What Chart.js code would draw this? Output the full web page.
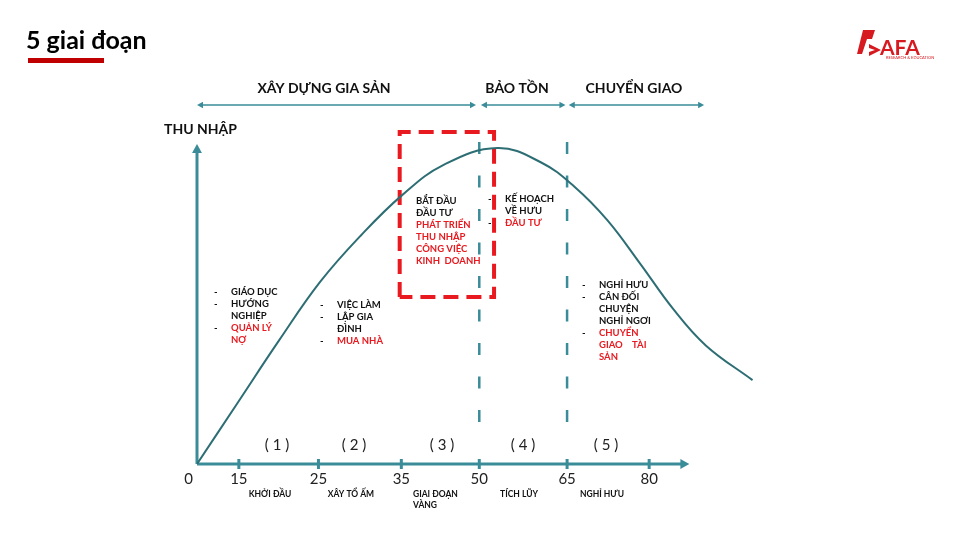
<!DOCTYPE html>
<html>
<head>
<meta charset="UTF-8">
<title>5 giai đoạn</title>
<script src="https://cdn.jsdelivr.net/npm/chart.js"></script>
<style>
  html, body { margin: 0; padding: 0; background: #fff; }
  #wrap { width: 960px; height: 540px; }
</style>
</head>
<body>
<div id="wrap"><canvas id="lifeChart" width="960" height="540"></canvas></div>

<script>
// tuổi trên trục hoành và vị trí tương ứng (trục không đều)
const ageLabels = ['0', '15', '25', '35', '50', '65', '80'];
const agePos = [0, 0.51, 1.48, 2.49, 3.44, 4.51, 5.51];

// đường thu nhập (vị trí trên trục, giá trị)
const incomeX = [0, 0.5, 1.0, 1.5, 2.0, 2.5, 3.0, 3.66, 4.2, 4.6, 5.0, 5.4, 5.8, 6.2, 6.77];
const incomeY = [0, 18.5, 37.0, 54.5, 68.5, 80.5, 89.5, 94.6, 90.2, 83.0, 73.0, 60.0, 46.5, 35.5, 25.1];

// vạch chia giai đoạn (tuổi 50 và 65)
const splitX = [3.44, 4.51];
const splitY = [96.4, 8.7];

// khung đỏ "giai đoạn vàng"
const boxX = [2.47, 3.62];
const boxY = [50.0, 99.4];

// nhóm giai đoạn phía trên
const topGroups = ['XÂY DỰNG GIA SẢN', 'BẢO TỒN', 'CHUYỂN GIAO'];
const topFrom = [0, 3.46, 4.53];
const topTo = [3.40, 4.49, 6.18];

// số giai đoạn và tên giai đoạn
const phaseNums = ['( 1 )', '( 2 )', '( 3 )', '( 4 )', '( 5 )'];
const phaseNames = [['KHỞI ĐẦU'], ['XÂY TỔ ẤM'], ['GIAI ĐOẠN', 'VÀNG'], ['TÍCH LŨY'], ['NGHỈ HƯU']];

// ghi chú từng giai đoạn: [chữ, đỏ?, gạch đầu dòng?]
const notes1 = [['GIÁO DỤC', 0, 1], ['HƯỚNG', 0, 1], ['NGHIỆP', 0, 0], ['QUẢN LÝ', 1, 1], ['NỢ', 1, 0]];
const notes2 = [['VIỆC LÀM', 0, 1], ['LẬP GIA', 0, 1], ['ĐÌNH', 0, 0], ['MUA NHÀ', 1, 1]];
const notes3 = [['BẮT ĐẦU', 0, 0], ['ĐẦU TƯ', 0, 0], ['PHÁT TRIỂN', 1, 0], ['THU NHẬP', 1, 0], ['CÔNG VIỆC', 1, 0], ['KINH  DOANH', 1, 0]];
const notes4 = [['KẾ HOẠCH', 0, 1], ['VỀ HƯU', 0, 0], ['ĐẦU TƯ', 1, 1]];
const notes5 = [['NGHỈ HƯU', 0, 1], ['CÂN ĐỐI', 0, 1], ['CHUYỆN', 0, 0], ['NGHỈ NGƠI', 0, 0], ['CHUYỂN', 1, 1], ['GIAO    TÀI', 1, 0], ['SẢN', 1, 0]];

const TEAL = '#3a8c99';
const CURVE = '#2d6e74';
const RED = '#e8191f';
const FONT = 'Lato, "Noto Sans", sans-serif';

function arrowHead(ctx, x, y, ang, size) {
    ctx.save();
    ctx.translate(x, y);
    ctx.rotate(ang);
    ctx.beginPath();
    ctx.moveTo(0, 0);
    ctx.lineTo(-size, -size * 0.55);
    ctx.lineTo(-size, size * 0.55);
    ctx.closePath();
    ctx.fill();
    ctx.restore();
}

function noteBlock(ctx, list, x, y, dashX) {
    ctx.font = 'bold 9.5px ' + FONT;
    ctx.textBaseline = 'middle';
    ctx.textAlign = 'left';
    list.forEach(function(n, i) {
        const ly = y + i * 12;
        if (n[2]) {
            ctx.fillStyle = '#111';
            ctx.fillText('-', dashX, ly);
        }
        ctx.fillStyle = n[1] ? RED : '#111';
        ctx.fillText(n[0], x, ly);
    });
}

const decor = {
    id: 'decor',
    beforeDatasetsDraw: function(chart) {
        const ctx = chart.ctx;
        const xs = chart.scales.x, ys = chart.scales.y;
        const x0 = xs.getPixelForValue(0), y0 = ys.getPixelForValue(0);
        const xEnd = xs.getPixelForValue(6.0);
        ctx.save();
        ctx.strokeStyle = TEAL;
        ctx.fillStyle = TEAL;
        ctx.lineWidth = 3;
        // trục hoành
        ctx.beginPath();
        ctx.moveTo(x0, y0);
        ctx.lineTo(xEnd - 6, y0);
        ctx.stroke();
        arrowHead(ctx, xEnd, y0, 0, 9);
        // trục tung
        ctx.beginPath();
        ctx.moveTo(x0, y0);
        ctx.lineTo(x0, 150);
        ctx.stroke();
        arrowHead(ctx, x0, 144, -Math.PI / 2, 9);
        // vạch chia tuổi
        agePos.forEach(function(p, i) {
            if (i === 0) return;
            const px = xs.getPixelForValue(p);
            ctx.beginPath();
            ctx.moveTo(px, y0 - 5);
            ctx.lineTo(px, y0 + 5);
            ctx.stroke();
        });
        // mũi tên giai đoạn phía trên
        ctx.lineWidth = 1.5;
        topGroups.forEach(function(g, i) {
            const a = xs.getPixelForValue(topFrom[i]), b = xs.getPixelForValue(topTo[i]);
            ctx.beginPath();
            ctx.moveTo(a + 3, 105);
            ctx.lineTo(b - 3, 105);
            ctx.stroke();
            arrowHead(ctx, a, 105, Math.PI, 6);
            arrowHead(ctx, b, 105, 0, 6);
        });
        ctx.restore();
    },
    afterDatasetsDraw: function(chart) {
        const ctx = chart.ctx;
        const xs = chart.scales.x, ys = chart.scales.y;
        const y0 = ys.getPixelForValue(0);
        ctx.save();
        // tiêu đề
        ctx.fillStyle = '#000';
        ctx.font = 'bold 25px ' + FONT;
        ctx.textAlign = 'left';
        ctx.textBaseline = 'alphabetic';
        ctx.fillText('5 giai đoạn', 26, 49);
        ctx.fillStyle = '#c00000';
        ctx.fillRect(28, 58, 76, 5);

        // logo
        ctx.fillStyle = '#d71920';
        ctx.beginPath();
        ctx.moveTo(857, 54); ctx.lineTo(863, 30); ctx.lineTo(875, 30);
        ctx.lineTo(872, 39); ctx.lineTo(867, 39); ctx.lineTo(862, 54);
        ctx.closePath(); ctx.fill();
        ctx.beginPath();
        ctx.moveTo(869, 44); ctx.lineTo(881, 50); ctx.lineTo(869, 56);
        ctx.lineTo(869, 52); ctx.lineTo(875, 50); ctx.lineTo(869, 48);
        ctx.closePath(); ctx.fill();
        ctx.font = 'bold 21px ' + FONT;
        ctx.fillText('AFA', 880, 55);
        ctx.font = '4px ' + FONT;
        ctx.fillText('RESEARCH & EDUCATION', 886, 59);

        // nhãn nhóm phía trên
        ctx.fillStyle = '#111';
        ctx.font = 'bold 14px ' + FONT;
        ctx.textAlign = 'center';
        ctx.textBaseline = 'middle';
        const topCenters = [324, 517, 634];
        topGroups.forEach(function(g, i) { ctx.fillText(g, topCenters[i], 88); });

        // tên trục tung
        ctx.textAlign = 'left';
        ctx.fillText('THU NHẬP', 164, 129);

        // nhãn tuổi
        ctx.fillStyle = '#222';
        ctx.font = '15px ' + FONT;
        agePos.forEach(function(p, i) {
            const px = xs.getPixelForValue(p);
            ctx.textAlign = i === 0 ? 'right' : 'center';
            ctx.fillText(ageLabels[i], i === 0 ? px - 4 : px, y0 + 15);
        });

        // số giai đoạn
        ctx.textAlign = 'center';
        const numCenters = [277, 354, 442, 523, 606];
        phaseNums.forEach(function(t, i) { ctx.fillText(t, numCenters[i], y0 - 19); });

        // tên giai đoạn
        ctx.fillStyle = '#111';
        ctx.font = 'bold 8.5px ' + FONT;
        const nameX = [270, 351, 413, 519, 602];
        phaseNames.forEach(function(lines, i) {
            ctx.textAlign = lines.length > 1 ? 'left' : 'center';
            lines.forEach(function(l, j) { ctx.fillText(l, nameX[i], y0 + 30 + j * 11); });
        });

        // ghi chú
        noteBlock(ctx, notes1, 231, 292, 214);
        noteBlock(ctx, notes2, 337, 305, 320);
        noteBlock(ctx, notes3, 416, 201, 400);
        noteBlock(ctx, notes4, 505, 199, 488);
        noteBlock(ctx, notes5, 599, 285, 582);
        ctx.restore();
    }
};

const ctx = document.getElementById('lifeChart').getContext('2d');
new Chart(ctx, {
    type: 'line',
    data: {
        datasets: [
            {
                label: 'Thu nhập',
                data: incomeX.map(function(x, i) { return { x: x, y: incomeY[i] }; }),
                borderColor: CURVE,
                borderWidth: 2,
                pointRadius: 0,
                tension: 0.4
            },
            {
                label: '50',
                data: splitY.map(function(y) { return { x: splitX[0], y: y }; }),
                borderColor: TEAL,
                borderWidth: 2.5,
                borderDash: [12, 21.5],
                pointRadius: 0
            },
            {
                label: '65',
                data: splitY.map(function(y) { return { x: splitX[1], y: y }; }),
                borderColor: TEAL,
                borderWidth: 2.5,
                borderDash: [12, 21.5],
                pointRadius: 0
            },
            {
                label: 'Giai đoạn vàng',
                data: [
                    { x: boxX[0], y: boxY[0] }, { x: boxX[0], y: boxY[1] },
                    { x: boxX[1], y: boxY[1] }, { x: boxX[1], y: boxY[0] },
                    { x: boxX[0], y: boxY[0] }
                ],
                borderColor: RED,
                borderWidth: 4,
                borderDash: [15, 8],
                pointRadius: 0,
                tension: 0
            }
        ]
    },
    options: {
        responsive: false,
        animation: false,
        layout: { padding: { left: 197, right: 205, top: 130, bottom: 76 } },
        scales: {
            x: { type: 'linear', min: 0, max: 6.8, display: false },
            y: { min: 0, max: 100, display: false }
        },
        plugins: {
            legend: { display: false },
            tooltip: { enabled: false }
        }
    },
    plugins: [decor]
});
</script>
</body>
</html>
